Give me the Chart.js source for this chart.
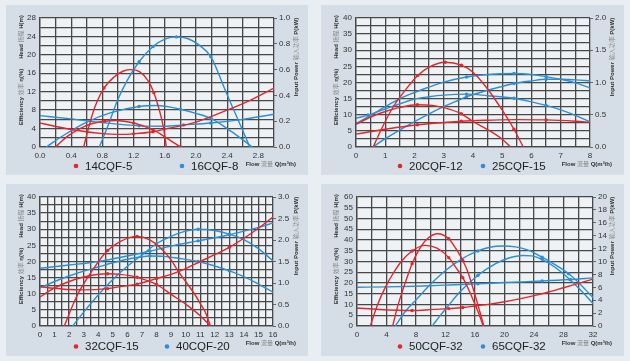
<!DOCTYPE html>
<html>
<head>
<meta charset="utf-8">
<script src="https://cdn.jsdelivr.net/npm/chart.js@4.4.1/dist/chart.umd.min.js"></script>
<style>
  html, body { margin: 0; padding: 0; width: 630px; height: 361px; overflow: hidden; background: #e9eef2; }
  .panel { position: absolute; background: #d5dee6; }
  canvas { display: block; }
</style>
</head>
<body>
<div class="panel" style="left:6px;top:5px;width:302px;height:170px"><canvas id="c1" width="302" height="170"></canvas></div>
<div class="panel" style="left:321px;top:5px;width:303px;height:170px"><canvas id="c2" width="303" height="170"></canvas></div>
<div class="panel" style="left:6px;top:184px;width:302px;height:172px"><canvas id="c3" width="302" height="172"></canvas></div>
<div class="panel" style="left:321px;top:184px;width:303px;height:172px"><canvas id="c4" width="303" height="172"></canvas></div>
<script>
const models = ["14CQF-5", "16CQF-8", "20CQF-12", "25CQF-15", "32CQF-15", "40CQF-20", "50CQF-32", "65CQF-32"];

// [flow Q, value]  - head/efficiency curves in left-axis units, power curves in kW
const s14a = [[0.56,0],[0.62,4],[0.7,8.5],[0.82,12.8],[0.95,15.2],[1.07,16.5],[1.17,16.8],[1.28,16.3],[1.38,14.5],[1.46,11.8],[1.53,8],[1.58,4.5],[1.62,0]];
const s14b = [[0.2,0],[0.35,2.3],[0.5,3.9],[0.65,5],[0.83,5.6],[0.97,5.75],[1.2,5.2],[1.45,3.7],[1.62,2],[1.8,0]];
const s14kw = [[0,0.186],[0.4,0.136],[0.8,0.104],[1.0,0.098],[1.2,0.102],[1.45,0.118],[1.6,0.139],[2.0,0.193],[2.4,0.286],[2.7,0.364],[3.0,0.457]];
const s16a = [[0.76,0],[0.88,5],[0.99,10],[1.12,14.5],[1.27,18.5],[1.45,21.8],[1.6,23.4],[1.75,23.9],[1.9,23.5],[2.05,22],[2.19,19.6],[2.39,11.7],[2.55,5.5],[2.69,0]];
const s16b = [[0.08,0],[0.3,2.5],[0.6,5.4],[0.9,7.4],[1.27,8.8],[1.5,9],[1.8,8.2],[2.0,7.3],[2.19,6.2],[2.4,4],[2.55,2.2],[2.72,0]];
const s16kw = [[0,0.243],[0.4,0.218],[0.8,0.189],[1.27,0.164],[1.6,0.161],[1.84,0.171],[2.19,0.186],[2.6,0.214],[3.0,0.254]];

const s20a = [[0.59,0],[0.85,5.2],[1.27,12.4],[1.7,17.8],[2.11,22.2],[2.5,24.8],[3.05,26.3],[3.6,25.4],[4.0,23.2],[4.5,18],[5.0,11.4],[5.4,5.5],[5.72,0]];
const s20b = [[0,7],[0.5,9.3],[1.0,11],[1.5,12.3],[2.1,13.1],[2.6,12.9],[3.0,12.2],[3.6,10.3],[4.0,7.9],[4.5,5.4],[5.0,2.4],[5.28,0]];
const s20kw = [[0,0.2],[1,0.275],[2.1,0.345],[3,0.38],[3.6,0.4],[4.5,0.415],[5.5,0.425],[6.5,0.42],[7.5,0.4],[8,0.385]];
const s25a = [[0,8.9],[0.41,9.9],[1,11.8],[1.5,13.4],[2,14.9],[2.5,15.6],[3,16.1],[3.78,16.4],[4.5,15.9],[5.4,15.1],[6,14],[6.5,12.9],[7,11.5],[7.5,9.8],[8,7.8]];
const s25b = [[0.58,0],[1,2.6],[1.5,5.3],[2,7.9],[2.5,10.3],[3,12.5],[3.5,14.5],[3.78,15.6],[4.5,17.6],[5.4,19.7],[6,20.5],[6.5,21],[7,21],[7.5,20.8],[8,20.5]];
const s25kw = [[0,0.365],[0.5,0.49],[1,0.625],[1.5,0.75],[2,0.845],[2.5,0.93],[3,1.005],[3.78,1.085],[4.5,1.125],[5.4,1.14],[6,1.125],[6.5,1.09],[7,1.05],[7.5,0.995],[8,0.915]];

const s32a = [[1.67,0],[2.5,9],[3.2,14.5],[4,19.9],[4.64,23.4],[5.5,26.2],[6.67,27.8],[7.5,26.8],[8.2,24.5],[9,20.5],[9.5,16.9],[10,13.8],[10.6,10],[11,7],[11.4,3.8],[11.7,0]];
const s32b = [[0,9],[1,11.8],[2,13.8],[3,15.2],[4.64,16.2],[5.5,16],[6.67,15.1],[8,12.9],[9,9.8],[10,6.8],[11,3.2],[11.7,0]];
const s32kw = [[0,0.915],[1,0.878],[2,0.848],[3,0.84],[4.64,0.87],[5.5,0.915],[6.67,0.975],[8,1.103],[9,1.2],[10,1.335],[11,1.5],[12,1.658],[13,1.83],[14,2.04],[15,2.273],[16,2.535]];
const s40a = [[2.24,0],[3,4.3],[4,9.6],[5,14.4],[6,18.5],[7,22],[8,25.5],[9,27.8],[10,29.4],[10.86,30],[12,29.6],[13,28.5],[14,26.8],[15,24],[16,20.2]];
const s40b = [[0,11.8],[1,13.8],[2,15.5],[3,17],[4,18.3],[5,19.6],[6,20.7],[7.54,21.7],[8.5,21.6],[9.5,21],[10.86,20],[12,18.6],[13,17.1],[14,15.3],[15,13],[16,10.5]];
const s40kw = [[0,1.343],[2,1.418],[4,1.5],[6,1.628],[7.54,1.74],[9,1.86],[10.86,1.98],[13,2.123],[14,2.205],[15,2.295],[16,2.393]];

const s50a = [[4.84,0],[5.5,9],[6.2,16.6],[7.47,29],[8.5,36],[9.5,40.5],[10.95,42.9],[12.44,40.6],[13.5,35.5],[14.34,30.5],[15,25.5],[15.6,19],[16.3,11],[17.2,0]];
const s50b = [[1.8,0],[2.8,10],[3.85,18.1],[5,25],[6,30],[7.47,34.9],[9.18,37.5],[10.86,36.2],[12.44,31.8],[13.5,26.8],[14.34,22.5],[15.2,16.5],[16.05,9.6],[16.6,5],[17.1,0]];
const s50kw = [[0,2.8],[3,2.567],[7.47,2.4],[10,2.533],[12.44,2.7],[14.34,2.867],[16,3.1],[18,3.4],[20,3.767],[22,4.2],[24,4.7],[26,5.267],[28,5.933],[30,6.6],[32,7.267]];
const s65a = [[5.2,0],[6.5,6.5],[8.1,12.5],[10,19.5],[12,25.8],[14,30.8],[16.4,34.9],[18,36.6],[19.7,37.2],[21.5,36.8],[23.3,35.2],[25.1,32],[26.9,28.4],[28.7,24.3],[30.1,20],[31,16.8],[32,13.3]];
const s65b = [[10.2,0],[11.2,4.5],[12.4,9.5],[14,16],[16.4,23.6],[18.8,29],[20.5,31.5],[22.5,32.8],[23.7,32.6],[25.1,31],[26.9,27.2],[28.9,21.5],[30.5,16],[32,10.4]];
const s65kw = [[0,6.0],[4,6.067],[8,6.167],[12,6.333],[16.4,6.533],[20,6.733],[25.1,6.967],[28.9,7.2],[32,7.467]];

// flows of the measured test points drawn as dots
const marks1 = [0.82, 0.83, 1.2, 1.27, 1.45, 1.46, 1.75, 1.8, 1.84, 2.19];
const marks2 = [0.41, 2.1, 2.11, 3.05, 3.6, 3.78, 5.4, 6.5];
const marks3 = [4.64, 6.67, 7.54, 8, 10.86, 13];
const marks4 = [7.47, 12.44, 14.34, 16.05, 16.4, 25.1, 28.7, 28.9];

const RED = "#e3262b";
const BLUE = "#2a8fd6";
const DARK = "#333";

Chart.defaults.font.family = '"Liberation Sans", Arial, sans-serif';

function drawSegs(ctx, segs, x, y, align, rotate) {
  ctx.save();
  ctx.translate(x, y);
  if (rotate) ctx.rotate(-Math.PI / 2);
  ctx.textBaseline = "middle";
  ctx.textAlign = "left";
  let total = 0;
  segs.forEach(s => { ctx.font = s[1]; total += ctx.measureText(s[0]).width; });
  let cx = align === "right" ? -total : -total / 2;
  segs.forEach(s => {
    ctx.font = s[1];
    ctx.fillStyle = s[2];
    ctx.fillText(s[0], cx, 0);
    cx += ctx.measureText(s[0]).width;
  });
  ctx.restore();
}

const BOLD = 'bold 6px "Liberation Sans", Arial, sans-serif';
const CJK = '6px "Noto Sans CJK SC", sans-serif';

function build(id, o) {
  const deco = {
    id: "deco",
    beforeDraw(chart) {
      const a = chart.chartArea, c = chart.ctx;
      c.save();
      c.fillStyle = "#eef2f5";
      c.fillRect(a.left, a.top, a.right - a.left, a.bottom - a.top);
      c.restore();
    },
    afterDraw(chart) {
      const c = chart.ctx;
      drawSegs(c, [["Head ", BOLD, DARK], ["扬程", CJK, "#888"], [" H(m)", BOLD, DARK]], 15, 32, "center", true);
      drawSegs(c, [["Efficiency ", BOLD, DARK], ["效率", CJK, "#888"], [" η(%)", BOLD, DARK]], 15, 92, "center", true);
      drawSegs(c, [["Input Power ", BOLD, DARK], ["输入功率", CJK, "#888"], [" P(kW)", BOLD, DARK]], o.w - 12, 52, "center", true);
      drawSegs(c, [["Flow ", BOLD, DARK], ["流量", CJK, "#888"], [" Q(m³/h)", BOLD, DARK]], o.w - 12, 159, "right", false);
      // legend
      const ly = o.h - (o.h === 170 ? 9 : 9.5);
      [[o.names[0], RED, o.legX[0]], [o.names[1], BLUE, o.legX[1]]].forEach(it => {
        c.save();
        c.fillStyle = it[1];
        c.beginPath();
        c.arc(it[2], ly, 2.3, 0, Math.PI * 2);
        c.fill();
        c.fillStyle = "#222";
        c.font = '11.5px "Liberation Sans", Arial, sans-serif';
        c.textBaseline = "middle";
        c.fillText(it[0], it[2] + 9, ly + 0.5);
        c.restore();
      });
    }
  };

  const datasets = o.curves.map(cv => ({
    data: cv[0].map(p => ({ x: p[0], y: p[1] })),
    borderColor: cv[1],
    backgroundColor: cv[1],
    yAxisID: cv[2] ? "y1" : "y",
    borderWidth: 1.4,
    pointRadius: ctx => (ctx.raw && o.marks.includes(ctx.raw.x) ? 1.7 : 0),
    pointBorderWidth: 0,
    pointBackgroundColor: cv[1],
    fill: false,
    cubicInterpolationMode: "monotone"
  }));

  const gridCol = "#484848";
  new Chart(document.getElementById(id), {
    type: "line",
    data: { datasets },
    options: {
      responsive: false,
      animation: false,
      events: [],
      layout: { padding: { top: 13, left: 0, right: 0, bottom: 0 } },
      plugins: { legend: { display: false }, tooltip: { enabled: false } },
      scales: {
        x: {
          type: "linear", min: 0, max: o.xMax,
          afterFit: s => { s.height = o.h - 142; },
          grid: { color: gridCol, lineWidth: 1.3, drawTicks: false },
          border: { color: gridCol, width: 1.3 },
          ticks: {
            stepSize: o.xStep, autoSkip: false, maxRotation: 0, padding: 4,
            color: DARK, font: { size: 8 },
            callback: (v, i) => (i % o.xEvery === 0 ? o.xFmt(v) : "")
          }
        },
        y: {
          type: "linear", position: "left", min: 0, max: o.yMax,
          afterFit: s => { s.width = o.left; },
          grid: { color: gridCol, lineWidth: 1.3, drawTicks: false },
          border: { color: gridCol, width: 1.3 },
          ticks: {
            stepSize: o.yStep, autoSkip: false, padding: 4,
            color: DARK, font: { size: 8 },
            callback: (v, i) => (i % o.yEvery === 0 ? String(Math.round(v)) : "")
          }
        },
        y1: {
          type: "linear", position: "right", min: 0, max: o.y1Max,
          afterFit: s => { s.width = o.w - o.right; },
          grid: { drawOnChartArea: false, drawTicks: true, tickLength: 3, color: "#666" },
          border: { display: false },
          ticks: {
            stepSize: o.y1Step, autoSkip: false, padding: 2,
            color: DARK, font: { size: 8 },
            callback: v => o.y1Fmt(v)
          }
        }
      }
    },
    plugins: [deco]
  });
}

const f1 = v => v.toFixed(1);
const f0 = v => String(Math.round(v));

build("c1", {
  w: 302, h: 170, left: 34, right: 268, names: [models[0], models[1]], legX: [70, 176], marks: marks1,
  xMax: 3.0, xStep: 0.2, xEvery: 2, xFmt: f1,
  yMax: 28, yStep: 2, yEvery: 2,
  y1Max: 1.0, y1Step: 0.2, y1Fmt: f1,
  curves: [[s14a, RED], [s14b, RED], [s14kw, RED, true], [s16a, BLUE], [s16b, BLUE], [s16kw, BLUE, true]]
});
build("c2", {
  w: 303, h: 170, left: 35, right: 269, names: [models[2], models[3]], legX: [79, 162], marks: marks2,
  xMax: 8, xStep: 0.5, xEvery: 2, xFmt: f0,
  yMax: 40, yStep: 2.5, yEvery: 2,
  y1Max: 2.0, y1Step: 0.5, y1Fmt: f1,
  curves: [[s20a, RED], [s20b, RED], [s20kw, RED, true], [s25a, BLUE], [s25b, BLUE], [s25kw, BLUE, true]]
});
build("c3", {
  w: 302, h: 172, left: 34, right: 267, names: [models[4], models[5]], legX: [70, 161], marks: marks3,
  xMax: 16, xStep: 0.5, xEvery: 2, xFmt: f0,
  yMax: 40, yStep: 2.5, yEvery: 2,
  y1Max: 3.0, y1Step: 0.5, y1Fmt: f1,
  curves: [[s32a, RED], [s32b, RED], [s32kw, RED, true], [s40a, BLUE], [s40b, BLUE], [s40kw, BLUE, true]]
});
build("c4", {
  w: 303, h: 172, left: 36, right: 272, names: [models[6], models[7]], legX: [79, 162], marks: marks4,
  xMax: 32, xStep: 2, xEvery: 2, xFmt: f0,
  yMax: 60, yStep: 5, yEvery: 1,
  y1Max: 20, y1Step: 2, y1Fmt: f0,
  curves: [[s50a, RED], [s50b, RED], [s50kw, RED, true], [s65a, BLUE], [s65b, BLUE], [s65kw, BLUE, true]]
});
</script>
</body>
</html>
